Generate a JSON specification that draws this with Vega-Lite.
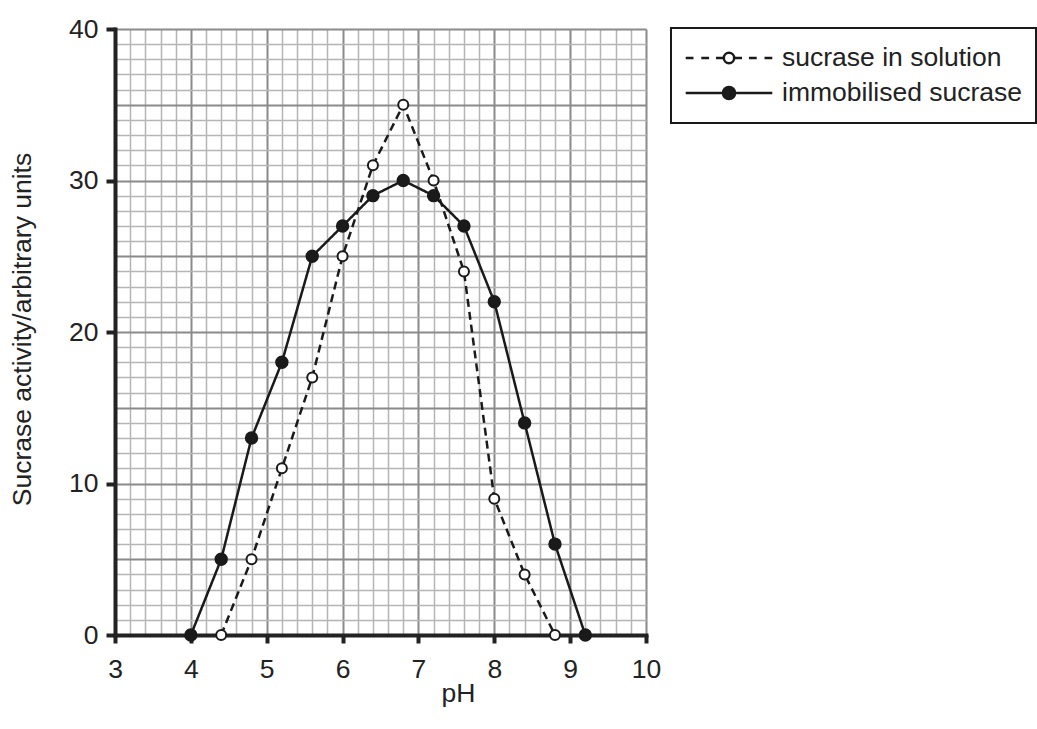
{
  "$schema": "https://vega.github.io/schema/vega-lite/v6.json",
  "width": 531,
  "height": 606,
  "autosize": "none",
  "padding": {"left": 115, "top": 29, "right": 391, "bottom": 94},
  "background": "white",
  "config": {
    "view": {"stroke": null},
    "font": "Liberation Sans",
    "legend": {"strokeWidth": 2}
  },
  "data": {
    "values": [
      {"series": "sucrase in solution", "pH": 4.4, "activity": 0},
      {"series": "sucrase in solution", "pH": 4.8, "activity": 5},
      {"series": "sucrase in solution", "pH": 5.2, "activity": 11},
      {"series": "sucrase in solution", "pH": 5.6, "activity": 17},
      {"series": "sucrase in solution", "pH": 6.0, "activity": 25},
      {"series": "sucrase in solution", "pH": 6.4, "activity": 31},
      {"series": "sucrase in solution", "pH": 6.8, "activity": 35},
      {"series": "sucrase in solution", "pH": 7.2, "activity": 30},
      {"series": "sucrase in solution", "pH": 7.6, "activity": 24},
      {"series": "sucrase in solution", "pH": 8.0, "activity": 9},
      {"series": "sucrase in solution", "pH": 8.4, "activity": 4},
      {"series": "sucrase in solution", "pH": 8.8, "activity": 0},
      {"series": "immobilised sucrase", "pH": 4.0, "activity": 0},
      {"series": "immobilised sucrase", "pH": 4.4, "activity": 5},
      {"series": "immobilised sucrase", "pH": 4.8, "activity": 13},
      {"series": "immobilised sucrase", "pH": 5.2, "activity": 18},
      {"series": "immobilised sucrase", "pH": 5.6, "activity": 25},
      {"series": "immobilised sucrase", "pH": 6.0, "activity": 27},
      {"series": "immobilised sucrase", "pH": 6.4, "activity": 29},
      {"series": "immobilised sucrase", "pH": 6.8, "activity": 30},
      {"series": "immobilised sucrase", "pH": 7.2, "activity": 29},
      {"series": "immobilised sucrase", "pH": 7.6, "activity": 27},
      {"series": "immobilised sucrase", "pH": 8.0, "activity": 22},
      {"series": "immobilised sucrase", "pH": 8.4, "activity": 14},
      {"series": "immobilised sucrase", "pH": 8.8, "activity": 6},
      {"series": "immobilised sucrase", "pH": 9.2, "activity": 0}
    ]
  },
  "encoding": {
    "x": {
      "field": "pH",
      "type": "quantitative",
      "scale": {"domain": [3, 10], "nice": false, "zero": false},
      "axis": {
        "title": "pH",
        "titleFontSize": 26.5,
        "titleFontWeight": "normal",
        "titleColor": "#222",
        "titleX": 343,
        "titleY": 58,
        "titleAlign": "center",
        "titleBaseline": "middle",
        "values": [3,3.2,3.4,3.6,3.8,4,4.2,4.4,4.6,4.8,5,5.2,5.4,5.6,5.8,6,6.2,6.4,6.6,6.8,7,7.2,7.4,7.6,7.8,8,8.2,8.4,8.6,8.8,9,9.2,9.4,9.6,9.8,10],
        "labelExpr": "datum.value % 1 === 0 ? format(datum.value, 'd') : ''",
        "labelFontSize": 26.5,
        "labelColor": "#222",
        "labelPadding": 13,
        "labelOverlap": false,
        "labelFlush": false,
        "labelBound": false,
        "domainColor": "#222",
        "domainWidth": 4,
        "domainCap": "square",
        "tickColor": "#222",
        "tickWidth": 4,
        "tickSize": 8,
        "tickOpacity": {"condition": {"test": "datum.value % 1 === 0", "value": 1}, "value": 0},
        "grid": true,
        "gridColor": {"condition": {"test": "datum.value % 1 === 0", "value": "#8a8a8a"}, "value": "#b5b5b5"},
        "gridWidth": {"condition": {"test": "datum.value % 1 === 0", "value": 2}, "value": 1.5},
        "gridOpacity": 1
      }
    },
    "y": {
      "field": "activity",
      "type": "quantitative",
      "scale": {"domain": [0, 40], "nice": false},
      "axis": {
        "title": "Sucrase activity/arbitrary units",
        "titleFontSize": 26.5,
        "titleFontWeight": "normal",
        "titleColor": "#222",
        "titleAngle": 270,
        "titleX": -93,
        "titleY": 300,
        "titleAlign": "center",
        "titleBaseline": "middle",
        "values": [0,1,2,3,4,5,6,7,8,9,10,11,12,13,14,15,16,17,18,19,20,21,22,23,24,25,26,27,28,29,30,31,32,33,34,35,36,37,38,39,40],
        "labelExpr": "datum.value % 10 === 0 ? datum.label : ''",
        "labelFontSize": 26.5,
        "labelColor": "#222",
        "labelPadding": 8,
        "labelOverlap": false,
        "labelFlush": false,
        "labelBound": false,
        "domainColor": "#222",
        "domainWidth": 4,
        "domainCap": "square",
        "tickColor": "#222",
        "tickWidth": 4,
        "tickSize": 9,
        "tickOpacity": {"condition": {"test": "datum.value % 10 === 0", "value": 1}, "value": 0},
        "grid": true,
        "gridColor": {"condition": {"test": "datum.value % 5 === 0", "value": "#8a8a8a"}, "value": "#b5b5b5"},
        "gridWidth": {"condition": {"test": "datum.value % 5 === 0", "value": 2}, "value": 1.5},
        "gridOpacity": 1
      }
    }
  },
  "layer": [
    {
      "mark": {"type": "line", "color": "#1a1a1a", "strokeWidth": 2.5},
      "encoding": {
        "detail": {"field": "series"},
        "strokeDash": {
          "condition": {"test": "datum.series === 'sucrase in solution'", "value": [8, 5]},
          "value": [1, 0]
        }
      }
    },
    {
      "mark": {"type": "point", "shape": "circle", "stroke": "#1a1a1a", "strokeWidth": 2, "opacity": 1},
      "encoding": {
        "fill": {
          "condition": {"test": "datum.series === 'sucrase in solution'", "value": "white"},
          "value": "#1a1a1a"
        },
        "size": {
          "condition": {"test": "datum.series === 'sucrase in solution'", "value": 100},
          "value": 130
        }
      }
    },
    {
      "mark": {"type": "point", "stroke": "#1a1a1a", "strokeWidth": 2.5, "opacity": 0},
      "encoding": {
        "shape": {
          "field": "series",
          "type": "nominal",
          "scale": {
            "domain": ["sucrase in solution", "immobilised sucrase"],
            "range": [
              "M-1,0H-0.82M-0.64,0H-0.46M-0.3,0H-0.12M0.12,0H0.3M0.46,0H0.64M0.82,0H1M0.12,0A0.12,0.12,0,1,1,-0.12,0A0.12,0.12,0,1,1,0.12,0Z",
              "M-1,0H-0.14M0.14,0H1M0.14,0A0.14,0.14,0,1,1,-0.14,0A0.14,0.14,0,1,1,0.14,0ZM0.1,0A0.1,0.1,0,1,1,-0.1,0A0.1,0.1,0,1,1,0.1,0ZM0.06,0A0.06,0.06,0,1,1,-0.06,0A0.06,0.06,0,1,1,0.06,0ZM0.025,0A0.025,0.025,0,1,1,-0.025,0A0.025,0.025,0,1,1,0.025,0Z"
            ]
          },
          "legend": {
            "title": null,
            "orient": "none",
            "legendX": 556,
            "legendY": -1,
            "padding": 13,
            "clipHeight": 34,
            "rowPadding": 1,
            "symbolSize": 7500,
            "symbolStrokeWidth": 2.5,
            "symbolStrokeColor": "#1a1a1a",
            "symbolFillColor": "transparent",
            "symbolOpacity": 1,
            "labelFontSize": 26.5,
            "labelColor": "#222",
            "labelOffset": 8,
            "labelLimit": 400,
            "strokeColor": "#1a1a1a",
            "fillColor": "white"
          }
        }
      }
    }
  ]
}
